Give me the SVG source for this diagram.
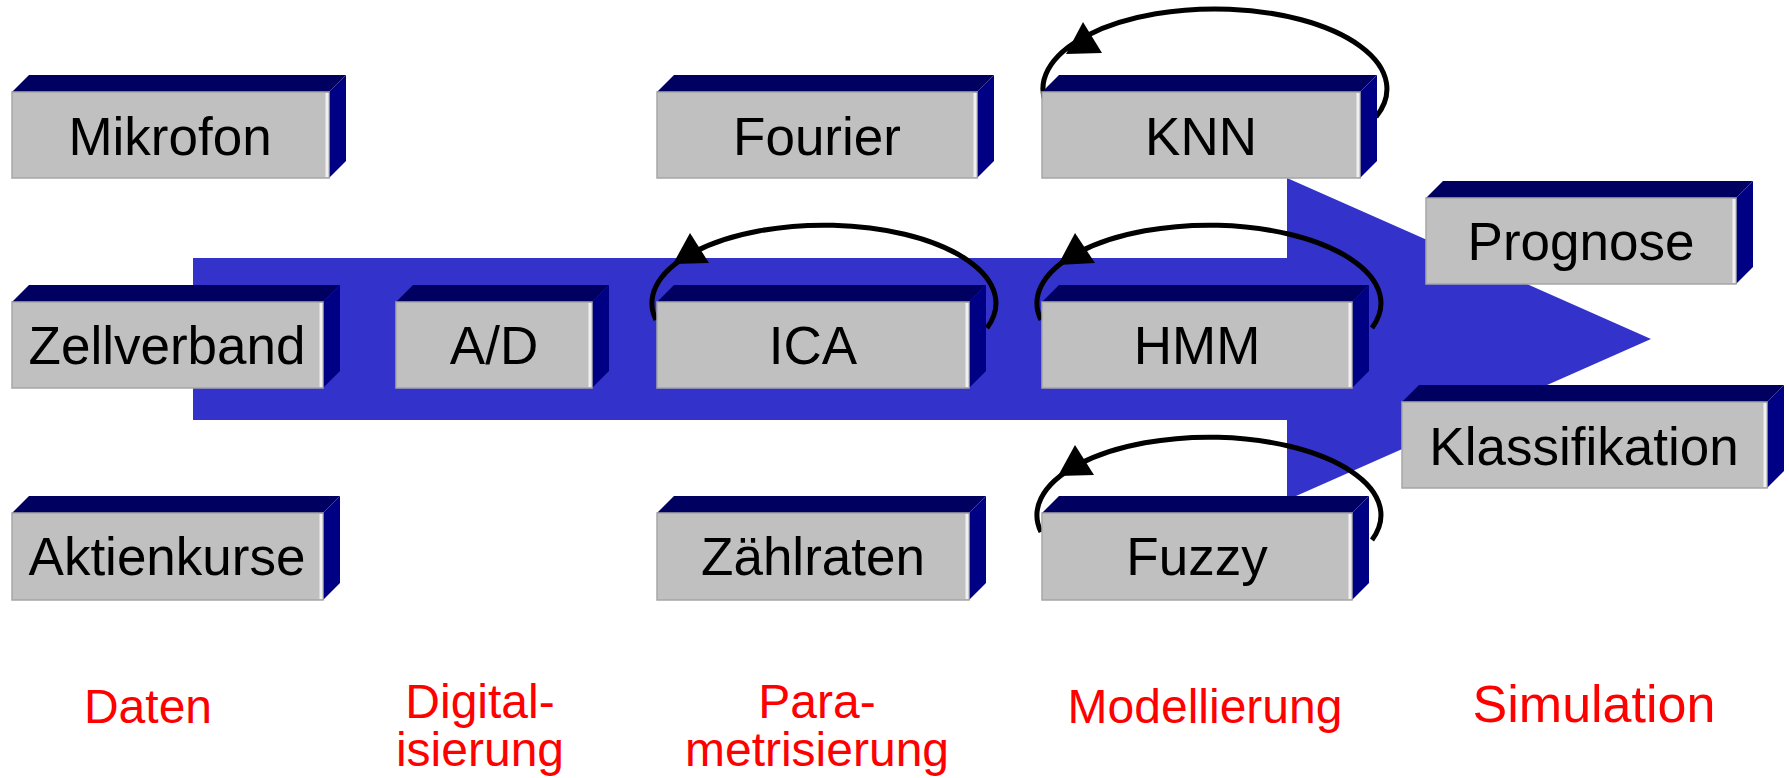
<svg xmlns="http://www.w3.org/2000/svg" width="1789" height="778" viewBox="0 0 1789 778">
<style>
.front{fill:#c0c0c0;stroke:#a6a6a6;stroke-width:1.5}
.top{fill:#000060}
.side{fill:#000085}
.hl{stroke:#f0f0f0;stroke-width:3}
.lbl{font-family:"Liberation Sans",Arial,sans-serif;font-size:53px;fill:#000;text-anchor:middle}
.phase{font-family:"Liberation Sans",Arial,sans-serif;font-size:48px;fill:#ff0000;text-anchor:middle}
.loop{fill:none;stroke:#000;stroke-width:5}
</style>
<rect width="1789" height="778" fill="#fff"/>
<g id="process-arrow">
<polygon points="193,258 1287,258 1287,178 1651,339 1287,500 1287,420 193,420" fill="#3333cc"/>
</g>
<g id="connectors">
<path class="loop" d="M1376,117 A172 80 0 1 0 1046,104"/>
<polygon points="1083,22 1066,54 1102,53" fill="#000"/>
<path class="loop" d="M987,328 A172 78 0 1 0 656,320"/>
<polygon points="690,233 673,264 709,263" fill="#000"/>
<path class="loop" d="M1372,328 A172 78 0 1 0 1041,320"/>
<polygon points="1075,233 1058,265 1095,263" fill="#000"/>
<path class="loop" d="M1372,540 A172 78 0 1 0 1041,532"/>
<polygon points="1075,445 1058,476 1094,475" fill="#000"/>
</g>
<g id="node-mikrofon">
<polygon class="top" points="12,92 29,75 346,75 329,92"/>
<polygon class="side" points="329,92 346,75 346,161 329,178"/>
<rect class="front" x="12" y="92" width="317" height="86"/>
<line class="hl" x1="327" y1="93" x2="327" y2="177"/>
<text class="lbl" x="170" y="155">Mikrofon</text>
</g>
<g id="node-fourier">
<polygon class="top" points="657,92 674,75 994,75 977,92"/>
<polygon class="side" points="977,92 994,75 994,161 977,178"/>
<rect class="front" x="657" y="92" width="320" height="86"/>
<line class="hl" x1="975" y1="93" x2="975" y2="177"/>
<text class="lbl" x="817" y="155">Fourier</text>
</g>
<g id="node-knn">
<polygon class="top" points="1042,92 1059,75 1377,75 1360,92"/>
<polygon class="side" points="1360,92 1377,75 1377,161 1360,178"/>
<rect class="front" x="1042" y="92" width="318" height="86"/>
<line class="hl" x1="1358" y1="93" x2="1358" y2="177"/>
<text class="lbl" x="1201" y="155">KNN</text>
</g>
<g id="node-zellverband">
<polygon class="top" points="12,302 29,285 340,285 323,302"/>
<polygon class="side" points="323,302 340,285 340,371 323,388"/>
<rect class="front" x="12" y="302" width="311" height="86"/>
<line class="hl" x1="321" y1="303" x2="321" y2="387"/>
<text class="lbl" x="167" y="364">Zellverband</text>
</g>
<g id="node-ad">
<polygon class="top" points="396,302 413,285 609,285 592,302"/>
<polygon class="side" points="592,302 609,285 609,371 592,388"/>
<rect class="front" x="396" y="302" width="196" height="86"/>
<line class="hl" x1="590" y1="303" x2="590" y2="387"/>
<text class="lbl" x="494" y="364">A/D</text>
</g>
<g id="node-ica">
<polygon class="top" points="657,302 674,285 986,285 969,302"/>
<polygon class="side" points="969,302 986,285 986,371 969,388"/>
<rect class="front" x="657" y="302" width="312" height="86"/>
<line class="hl" x1="967" y1="303" x2="967" y2="387"/>
<text class="lbl" x="813" y="364">ICA</text>
</g>
<g id="node-hmm">
<polygon class="top" points="1042,302 1059,285 1369,285 1352,302"/>
<polygon class="side" points="1352,302 1369,285 1369,371 1352,388"/>
<rect class="front" x="1042" y="302" width="310" height="86"/>
<line class="hl" x1="1350" y1="303" x2="1350" y2="387"/>
<text class="lbl" x="1197" y="364">HMM</text>
</g>
<g id="node-aktienkurse">
<polygon class="top" points="12,513 29,496 340,496 323,513"/>
<polygon class="side" points="323,513 340,496 340,583 323,600"/>
<rect class="front" x="12" y="513" width="311" height="87"/>
<line class="hl" x1="321" y1="514" x2="321" y2="599"/>
<text class="lbl" x="167" y="575">Aktienkurse</text>
</g>
<g id="node-zaehlraten">
<polygon class="top" points="657,513 674,496 986,496 969,513"/>
<polygon class="side" points="969,513 986,496 986,583 969,600"/>
<rect class="front" x="657" y="513" width="312" height="87"/>
<line class="hl" x1="967" y1="514" x2="967" y2="599"/>
<text class="lbl" x="813" y="575">Zählraten</text>
</g>
<g id="node-fuzzy">
<polygon class="top" points="1042,513 1059,496 1369,496 1352,513"/>
<polygon class="side" points="1352,513 1369,496 1369,583 1352,600"/>
<rect class="front" x="1042" y="513" width="310" height="87"/>
<line class="hl" x1="1350" y1="514" x2="1350" y2="599"/>
<text class="lbl" x="1197" y="575">Fuzzy</text>
</g>
<g id="node-prognose">
<polygon class="top" points="1426,198 1443,181 1753,181 1736,198"/>
<polygon class="side" points="1736,198 1753,181 1753,267 1736,284"/>
<rect class="front" x="1426" y="198" width="310" height="86"/>
<line class="hl" x1="1734" y1="199" x2="1734" y2="283"/>
<text class="lbl" x="1581" y="260">Prognose</text>
</g>
<g id="node-klassifikation">
<polygon class="top" points="1402,402 1419,385 1784,385 1767,402"/>
<polygon class="side" points="1767,402 1784,385 1784,471 1767,488"/>
<rect class="front" x="1402" y="402" width="365" height="86"/>
<line class="hl" x1="1765" y1="403" x2="1765" y2="487"/>
<text class="lbl" x="1584" y="465">Klassifikation</text>
</g>
<g id="phase-labels">
<text class="phase" x="148" y="723">Daten</text>
<text class="phase" x="480" y="718">Digital-</text>
<text class="phase" x="480" y="766">isierung</text>
<text class="phase" x="817" y="718">Para-</text>
<text class="phase" x="817" y="766">metrisierung</text>
<text class="phase" x="1205" y="723">Modellierung</text>
<text class="phase" x="1594" y="722" style="font-size:52px">Simulation</text>
</g>
</svg>
